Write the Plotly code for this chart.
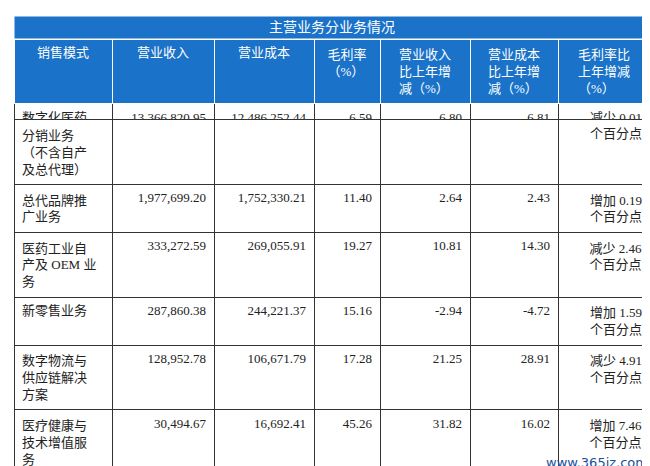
import plotly.graph_objects as go

title = "主营业务分业务情况"
headers = ["销售模式", "营业收入", "营业成本", "毛利率<br>（%）",
           "营业收入<br>比上年增<br>减（%）", "营业成本<br>比上年增<br>减（%）", "毛利率比<br>上年增减<br>（%）"]
categories = ["数字化医药", "分销业务<br>（不含自产<br>及总代理）", "总代品牌推<br>广业务",
              "医药工业自<br>产及 OEM 业<br>务", "新零售业务", "数字物流与<br>供应链解决<br>方案",
              "医疗健康与<br>技术增值服<br>务", "合计"]
revenue = ["13,366,820.95", "", "1,977,699.20", "333,272.59", "287,860.38", "128,952.78", "30,494.67", "16,125,100.58"]
cost = ["12,486,252.44", "", "1,752,330.21", "269,055.91", "244,221.37", "106,671.79", "16,692.41", "14,875,224.14"]
margin = ["6.59", "", "11.40", "19.27", "15.16", "17.28", "45.26", "7.75"]
rev_chg = ["6.80", "", "2.64", "10.81", "-2.94", "21.25", "31.82", "6.30"]
cost_chg = ["6.81", "", "2.43", "14.30", "-4.72", "28.91", "16.02", "6.33"]
margin_chg = ["减少 0.01", "个百分点", "增加 0.19<br>个百分点", "减少 2.46<br>个百分点", "增加 1.59<br>个百分点",
              "减少 4.91<br>个百分点", "增加 7.46<br>个百分点", "减少 0.02<br>个百分点"]

W, H = 650, 466
font = "Liberation Serif, Noto Sans CJK SC"
fig = go.Figure(go.Table(
    domain=dict(x=[6/W, 642/W], y=[0, 1 - 31/H]),
    columnwidth=[98, 102, 100, 66, 90, 88, 92],
    header=dict(values=headers, fill_color="#1a73c8", line_color="white",
                font=dict(color="white", size=13, family=font), align="center", height=16),
    cells=dict(values=[categories, revenue, cost, margin, rev_chg, cost_chg, margin_chg],
               fill_color="white", line_color="#333333",
               font=dict(color="#222222", size=13, family=font),
               align=["left", "right", "right", "right", "right", "right", "right"], height=16),
))
fig.add_shape(type="rect", xref="paper", yref="paper", x0=6/W, x1=642/W, y0=1-31/H, y1=1-8/H,
              fillcolor="#1a73c8", line=dict(color="white", width=1), layer="above")
fig.add_annotation(text=title, xref="paper", yref="paper", x=324/W, y=1-20/H, yanchor="middle",
                   showarrow=False, font=dict(color="white", size=14, family=font))
fig.add_annotation(text="www.365jz.com", xref="paper", yref="paper", x=642/W, y=2/H, xanchor="right",
                   yanchor="bottom", showarrow=False, font=dict(color="#1a4f9c", size=13, family="DejaVu Sans"))
fig.update_layout(width=W, height=H, margin=dict(l=0, r=0, t=0, b=0), paper_bgcolor="white")
fig.write_html("out.html")
